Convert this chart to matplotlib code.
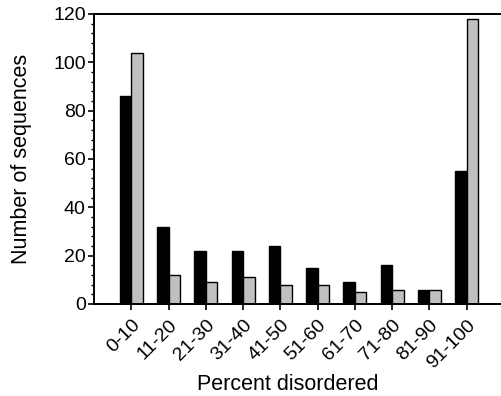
import matplotlib
matplotlib.use("Agg")
import matplotlib.pyplot as plt
import numpy as np
from matplotlib.ticker import MultipleLocator

plt.rcParams['font.family'] = ['Liberation Sans', 'DejaVu Sans']

categories = ["0-10", "11-20", "21-30", "31-40", "41-50",
              "51-60", "61-70", "71-80", "81-90", "91-100"]
black_counts = [86, 32, 22, 22, 24, 15, 9, 16, 6, 55]
gray_counts = [104, 12, 9, 11, 8, 8, 5, 6, 6, 118]

W, H = 502, 396
fig = plt.figure(figsize=(W / 100, H / 100), dpi=100)
left, right, top, bottom = 94, 504, 14, 304
ax = fig.add_axes([left / W, 1 - bottom / H, (right - left) / W, (bottom - top) / H])

x = np.arange(len(categories))
w = 0.31
ax.bar(x - w / 2, black_counts, width=w, color="black", edgecolor="black", linewidth=1.0)
ax.bar(x + w / 2, gray_counts, width=w, color="#c0c0c0", edgecolor="black", linewidth=1.0)

ax.set_xlim(-1.0, 10.0)
ax.set_ylim(0, 120)
ax.yaxis.set_major_locator(MultipleLocator(20))
ax.yaxis.set_minor_locator(MultipleLocator(4))
ax.set_xticks(x)
ax.set_xticklabels(categories, rotation=45, ha="right", va="top",
                   rotation_mode="anchor", fontsize=14)
for lbl in ax.get_xticklabels():
    lbl.set_x(lbl.get_position()[0])
ax.tick_params(axis="y", which="major", length=4, width=1.2, labelsize=14, pad=2)
ax.tick_params(axis="y", which="minor", length=2.5, width=1.0)
ax.tick_params(axis="x", length=4, width=1.2, pad=5)

for side in ("left", "bottom", "top"):
    ax.spines[side].set_linewidth(1.4)
ax.spines["right"].set_visible(False)

ax.set_ylabel("Number of sequences", fontsize=15.5)
ax.set_xlabel("Percent disordered", fontsize=15.5)
ax.yaxis.set_label_coords((22 - left) / (right - left), 0.5)
ax.xaxis.set_label_coords((288 - left) / (right - left), -(385 - bottom) / (bottom - top))
ax.xaxis.label.set_va("center")
ax.yaxis.label.set_va("center")

fig.savefig("out.png", dpi=100)
